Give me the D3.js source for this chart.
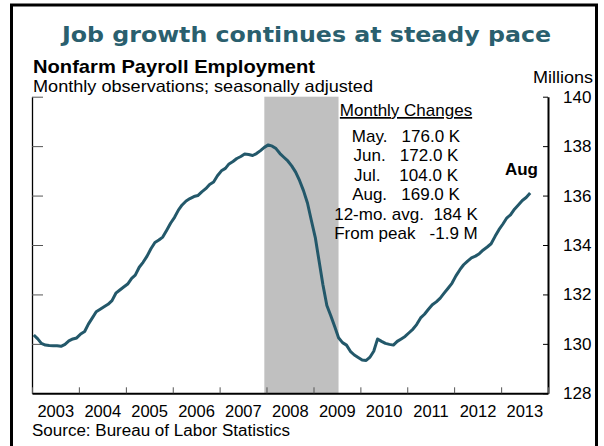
<!DOCTYPE html>
<html>
<head>
<meta charset="utf-8">
<script src="https://cdn.jsdelivr.net/npm/d3@7"></script>
<style>
  body { margin: 0; background: #fff; }
  svg { display: block; font-family: "Liberation Sans", Arial, sans-serif; }
</style>
</head>
<body>
<svg id="chart" width="604" height="446"></svg>
<script>
// nonfarm payroll employment, millions, monthly from Jan 2003 to Aug 2013
const firstMonth = "2003-01"
const payrolls = [
  130.36, 130.20, 130.02, 129.95, 129.93, 129.92, 129.92, 129.90, 129.98, 130.12, 130.20, 130.24, // 2003
  130.40, 130.50, 130.80, 131.05, 131.30, 131.40, 131.50, 131.60, 131.75, 132.05, 132.18, 132.30, // 2004
  132.42, 132.65, 132.78, 133.10, 133.30, 133.55, 133.85, 134.10, 134.20, 134.32, 134.60, 134.88, // 2005
  135.12, 135.42, 135.62, 135.78, 135.88, 135.96, 136.00, 136.15, 136.28, 136.45, 136.55, 136.80, // 2006
  137.00, 137.10, 137.28, 137.38, 137.50, 137.58, 137.68, 137.66, 137.62, 137.70, 137.82, 137.95, // 2007
  138.05, 138.00, 137.90, 137.70, 137.55, 137.40, 137.20, 136.95, 136.60, 136.20, 135.70, 135.00, // 2008
  134.30, 133.30, 132.40, 131.55, 131.15, 130.70, 130.25, 130.05, 129.95, 129.70, 129.55, 129.45, // 2009
  129.35, 129.33, 129.45, 129.70, 130.20, 130.10, 130.02, 129.98, 129.95, 130.10, 130.20, 130.30, // 2010
  130.45, 130.60, 130.78, 131.05, 131.20, 131.40, 131.58, 131.70, 131.85, 132.05, 132.25, 132.45, // 2011
  132.75, 133.00, 133.20, 133.35, 133.48, 133.55, 133.65, 133.80, 133.92, 134.05, 134.35, 134.62, // 2012
  134.85, 135.10, 135.22, 135.45, 135.62, 135.80, 135.92, 136.10                                  // 2013
]

const yTicks = [128, 130, 132, 134, 136, 138, 140]
const yearLabels = [2003, 2004, 2005, 2006, 2007, 2008, 2009, 2010, 2011, 2012, 2013]
const recession = ["2007-12", "2009-06"]   // NBER peak and trough

const changesTitle = "Monthly Changes"
const changeLines = [
  "May.   176.0 K",
  "Jun.   172.0 K",
  "Jul.    104.0 K",
  "Aug.   169.0 K",
  "12-mo. avg.  184 K",
  "From peak   -1.9 M"
]

const svg = d3.select("#chart")
const parseMonth = d3.timeParse("%Y-%m")
const midMonth = d => d3.timeDay.offset(d, 14)

const start = parseMonth(firstMonth)
const data = payrolls.map((v, i) => ({ date: midMonth(d3.timeMonth.offset(start, i)), value: v }))

const x = d3.scaleTime()
  .domain([new Date(2003, 0, 1), new Date(2014, 0, 1)])
  .range([32, 548])
const y = d3.scaleLinear()
  .domain([128, 140])
  .range([393.3, 96.7])

// outer frame
svg.append("rect")
  .attr("x", 11.5).attr("y", 5)
  .attr("width", 585).attr("height", 470)
  .attr("fill", "none")
  .attr("stroke", "#000")
  .attr("stroke-width", 3)

// recession shading
const recStart = midMonth(parseMonth(recession[0]))
const recEnd = midMonth(d3.timeMonth.offset(parseMonth(recession[1]), 1))
svg.append("rect")
  .attr("x", x(recStart))
  .attr("y", y(140))
  .attr("width", x(recEnd) - x(recStart))
  .attr("height", y(128) - y(140))
  .attr("fill", "#c0c0c0")

// left axis: thin line, gray ticks pointing inward, no labels
const leftAxis = svg.append("g")
  .attr("transform", `translate(${x.range()[0]},0)`)
  .call(d3.axisLeft(y).tickValues(yTicks.slice(1)).tickSizeInner(-11).tickSizeOuter(0))
leftAxis.selectAll(".tick text").remove()
leftAxis.select(".domain").attr("stroke", "#000").attr("stroke-width", 1.3)
leftAxis.selectAll(".tick line").attr("stroke", "#555")

// right axis with the labels
const rightAxis = svg.append("g")
  .attr("transform", `translate(${x.range()[1]},0)`)
  .call(d3.axisRight(y).tickValues(yTicks).tickSizeInner(-5).tickSizeOuter(0).tickPadding(15))
rightAxis.select(".domain").attr("stroke", "#000").attr("stroke-width", 2)
rightAxis.selectAll(".tick line").attr("stroke", "#000")
rightAxis.selectAll(".tick text")
  .attr("fill", "#000")
  .attr("font-size", 17)
  .attr("font-family", "Liberation Sans, Arial, sans-serif")

// bottom axis: year ticks pointing up
const bottomAxis = svg.append("g")
  .attr("transform", `translate(0,${y(128)})`)
  .call(d3.axisBottom(x).ticks(d3.timeYear.every(1)).tickSizeInner(-6).tickSizeOuter(0))
bottomAxis.selectAll(".tick text").remove()
bottomAxis.select(".domain").attr("stroke", "#000").attr("stroke-width", 2)
bottomAxis.selectAll(".tick line").attr("stroke", "#555")

// year labels sit in the middle of each year
const yearAxis = svg.append("g")
  .attr("transform", `translate(0,${y(128)})`)
  .call(d3.axisBottom(x)
    .tickValues(yearLabels.map(yr => new Date(yr, 6, 1)))
    .tickSize(0)
    .tickPadding(12)
    .tickFormat(d3.timeFormat("%Y")))
yearAxis.select(".domain").remove()
yearAxis.selectAll(".tick line").remove()
yearAxis.selectAll(".tick text")
  .attr("fill", "#000")
  .attr("font-size", 16.5)
  .attr("font-family", "Liberation Sans, Arial, sans-serif")

// the payroll line
svg.append("path")
  .datum(data)
  .attr("fill", "none")
  .attr("stroke", "#23586a")
  .attr("stroke-width", 3)
  .attr("stroke-linejoin", "round")
  .attr("d", d3.line().x(d => x(d.date)).y(d => y(d.value)))

// titles
svg.append("text")
  .attr("x", 306.5).attr("y", 42)
  .attr("text-anchor", "middle")
  .attr("font-family", "DejaVu Sans, Verdana, sans-serif")
  .attr("font-weight", "bold")
  .attr("font-size", 22)
  .attr("fill", "#2a5f6e")
  .attr("textLength", 489)
  .attr("lengthAdjust", "spacingAndGlyphs")
  .text("Job growth continues at steady pace")

svg.append("text")
  .attr("x", 33).attr("y", 73)
  .attr("font-weight", "bold")
  .attr("font-size", 19)
  .attr("textLength", 282)
  .attr("lengthAdjust", "spacingAndGlyphs")
  .text("Nonfarm Payroll Employment")

svg.append("text")
  .attr("x", 33).attr("y", 92)
  .attr("font-size", 16.5)
  .attr("textLength", 340)
  .attr("lengthAdjust", "spacingAndGlyphs")
  .text("Monthly observations; seasonally adjusted")

svg.append("text")
  .attr("x", 593).attr("y", 83)
  .attr("text-anchor", "end")
  .attr("font-size", 16)
  .attr("textLength", 60)
  .attr("lengthAdjust", "spacingAndGlyphs")
  .text("Millions")

// monthly changes box (runs of spaces kept as no-break spaces)
svg.append("text")
  .attr("x", 406).attr("y", 116)
  .attr("text-anchor", "middle")
  .attr("font-size", 17)
  .attr("text-decoration", "underline")
  .text(changesTitle)

svg.append("g")
  .selectAll("text")
  .data(changeLines)
  .join("text")
  .attr("x", 406)
  .attr("y", (d, i) => 141.7 + i * 19.45)
  .attr("text-anchor", "middle")
  .attr("font-size", 17)
  .text(d => d.replace(/ /g, "\u00A0"))

// label at the end of the line
svg.append("text")
  .attr("x", 538).attr("y", 175)
  .attr("text-anchor", "end")
  .attr("font-weight", "bold")
  .attr("font-size", 17)
  .text("Aug")

svg.append("text")
  .attr("x", 32).attr("y", 435.5)
  .attr("font-size", 16)
  .attr("textLength", 258)
  .attr("lengthAdjust", "spacingAndGlyphs")
  .text("Source: Bureau of Labor Statistics")
</script>
</body>
</html>
